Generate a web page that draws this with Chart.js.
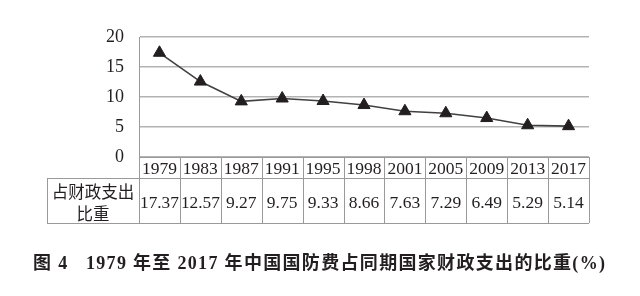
<!DOCTYPE html>
<html>
<head>
<meta charset="utf-8">
<script src="https://cdn.jsdelivr.net/npm/chart.js@4"></script>
<style>
  html, body { margin: 0; padding: 0; background: #fff; }
  #wrap { width: 640px; height: 296px; position: relative; }
</style>
</head>
<body>
<div id="wrap"><canvas id="myChart" width="640" height="296"></canvas></div>
<script>
const years = ['1979', '1983', '1987', '1991', '1995', '1998', '2001', '2005', '2009', '2013', '2017'];
const shares = [17.37, 12.57, 9.27, 9.75, 9.33, 8.66, 7.63, 7.29, 6.49, 5.29, 5.14];
const rowLabel = ['占财政支出', '比重'];
const title = '图 4   1979 年至 2017 年中国国防费占同期国家财政支出的比重(%)';

const serif = '"Liberation Serif", "Noto Sans CJK SC", serif';
const ink = '#231f20';
const rule = '#9a9a9a';

// table under the plot, drawn against the x scale
const tablePlugin = {
  id: 'dataTable',
  afterDraw(chart) {
    const ctx = chart.ctx;
    const x = chart.scales.x;
    const area = chart.chartArea;
    const step = x.getPixelForValue(1) - x.getPixelForValue(0);
    const top = area.bottom;
    const mid = top + 21;
    const bottom = top + 66;
    const labelLeft = 47;
    const left = area.left;
    const right = x.getPixelForValue(years.length - 1) + step / 2;

    ctx.save();
    ctx.strokeStyle = rule;
    ctx.lineWidth = 1;
    ctx.beginPath();
    ctx.moveTo(left, top + 0.5); ctx.lineTo(right, top + 0.5);
    ctx.moveTo(labelLeft, mid + 0.5); ctx.lineTo(right, mid + 0.5);
    ctx.moveTo(labelLeft, bottom + 0.5); ctx.lineTo(right, bottom + 0.5);
    ctx.moveTo(labelLeft + 0.5, mid); ctx.lineTo(labelLeft + 0.5, bottom);
    for (let i = 0; i <= years.length; i++) {
      const px = Math.round(x.getPixelForValue(0) - step / 2 + i * step) + 0.5;
      ctx.moveTo(px, top); ctx.lineTo(px, bottom);
    }
    ctx.stroke();

    ctx.fillStyle = ink;
    ctx.textAlign = 'center';
    ctx.textBaseline = 'middle';
    ctx.font = '17.5px ' + serif;
    years.forEach((y, i) => {
      ctx.fillText(y, x.getPixelForValue(i), top + 12);
    });
    shares.forEach((v, i) => {
      ctx.fillText(v.toFixed(2), x.getPixelForValue(i), mid + 25, step - 2);
    });

    ctx.font = '16.5px "Noto Sans CJK SC", sans-serif';
    ctx.fillText(rowLabel[0], (labelLeft + left) / 2, mid + 14);
    ctx.fillText(rowLabel[1], (labelLeft + left) / 2, mid + 36);

    // figure caption
    ctx.font = 'bold 18px ' + serif;
    ctx.textAlign = 'left';
    const target = 572;
    const w = ctx.measureText(title).width;
    ctx.letterSpacing = Math.max(0, (target - w) / (title.length - 1)).toFixed(2) + 'px';
    ctx.fillText(title, 33, 264);
    ctx.restore();
  }
};

new Chart('myChart', {
  type: 'line',
  data: {
    labels: years,
    datasets: [{
      label: '占财政支出比重',
      data: shares,
      borderColor: '#404040',
      borderWidth: 1.6,
      pointStyle: 'triangle',
      pointRadius: 7,
      pointBackgroundColor: ink,
      pointBorderColor: ink,
      pointBorderWidth: 1,
      tension: 0
    }]
  },
  options: {
    responsive: false,
    animation: false,
    layout: { padding: { top: 37, right: 51, bottom: 139, left: 0 } },
    plugins: {
      legend: { display: false },
      tooltip: { enabled: false }
    },
    scales: {
      x: { display: false, offset: true },
      y: {
        min: 0,
        max: 20,
        ticks: { stepSize: 5, padding: 15, color: ink, font: { family: serif, size: 18 } },
        grid: { color: '#b3b3b3', lineWidth: 1.5, drawTicks: false },
        border: { display: true, color: rule, width: 1 },
        afterFit(scale) { scale.width = 139; }
      }
    }
  },
  plugins: [tablePlugin]
});
</script>
</body>
</html>
